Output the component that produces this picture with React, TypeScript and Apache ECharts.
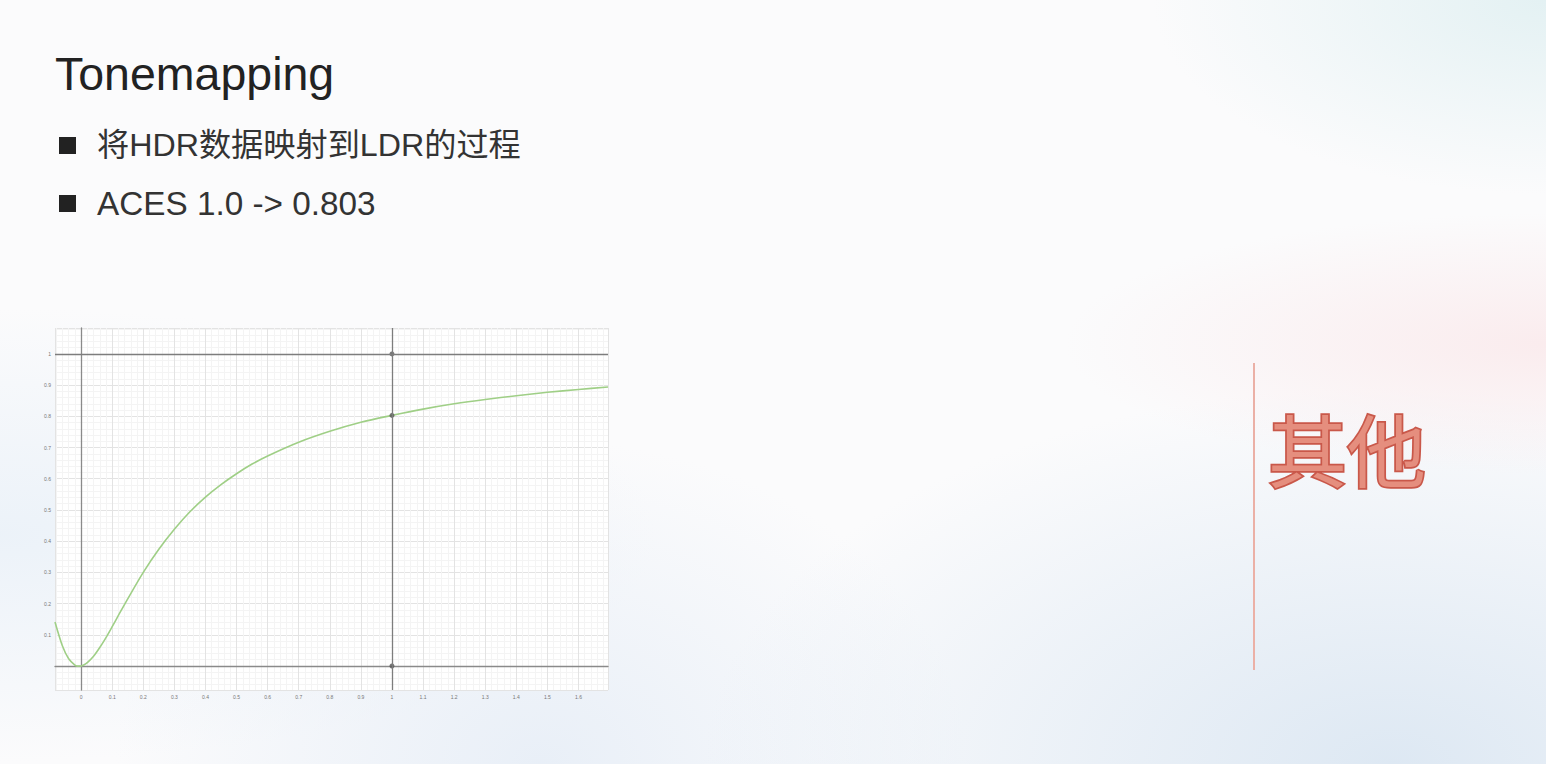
import React, { useEffect, useRef } from 'react';
import * as echarts from 'echarts';

// ACES curve (x -> mapped value)
const curveX = [-0.084, -0.06, -0.04, -0.02, -0.01, 0, 0.01, 0.02, 0.04, 0.06, 0.08, 0.1, 0.12, 0.15, 0.2, 0.25, 0.3, 0.35, 0.4, 0.45, 0.5, 0.55, 0.6, 0.7, 0.8, 0.9, 1.0, 1.1, 1.2, 1.3, 1.4, 1.5, 1.6, 1.695];
const curveY = [0.141, 0.064, 0.023, 0.003, -0.0004, 0, 0.0038, 0.0105, 0.031, 0.059, 0.091, 0.126, 0.162, 0.215, 0.3, 0.374, 0.438, 0.494, 0.541, 0.581, 0.616, 0.647, 0.673, 0.717, 0.752, 0.781, 0.803, 0.823, 0.84, 0.854, 0.866, 0.877, 0.886, 0.894];
const guideX = [1];
const guideY = [1];
const markerX = [1, 1, 1];
const markerY = [1, 0.803, 0];
const xRange = [-0.084, 1.695];
const yRange = [-0.077, 1.083];

const title = 'Tonemapping';
const bullets = ['将HDR数据映射到LDR的过程', 'ACES 1.0 -> 0.803'];
const sideTitle = '其他';

const fmt = (v: number) => String(+v.toFixed(1));

export default function App() {
  const ref = useRef<HTMLDivElement | null>(null);

  useEffect(() => {
    if (!ref.current) return;
    const chart = echarts.init(ref.current, undefined, { renderer: 'svg' });
    const latin = "'Liberation Sans', 'Noto Sans CJK SC', sans-serif";
    const axisCommon = {
      type: 'value' as const,
      axisLine: { onZero: true, lineStyle: { color: '#8a8a8a', width: 1.3 } },
      axisTick: { show: false },
      splitLine: { show: true, lineStyle: { color: '#e3e3e3', width: 1 } },
      minorTick: { show: false, splitNumber: 5 },
      minorSplitLine: { show: true, lineStyle: { color: '#f4f4f4', width: 1 } },
    };
    chart.setOption({
      animation: false,
      backgroundColor: 'transparent',
      grid: { left: 55, top: 328, width: 553, height: 362, show: true, backgroundColor: '#ffffff', borderWidth: 0 },
      xAxis: {
        ...axisCommon,
        min: xRange[0], max: xRange[1], splitNumber: 18,
        axisLabel: { fontSize: 5, color: '#777', margin: 4, showMinLabel: false, showMaxLabel: false, formatter: (v: number) => fmt(v) },
      },
      yAxis: {
        ...axisCommon,
        min: yRange[0], max: yRange[1], splitNumber: 12,
        axisLabel: { fontSize: 5, color: '#777', margin: 4, showMinLabel: false, showMaxLabel: false, formatter: (v: number) => (v === 0 ? '' : fmt(v)) },
      },
      series: [
        {
          type: 'line',
          data: curveX.map((x, i) => [x, curveY[i]]),
          smooth: 0.3,
          showSymbol: false,
          lineStyle: { color: '#9fcf86', width: 1.6 },
          markLine: {
            silent: true,
            symbol: 'none',
            label: { show: false },
            lineStyle: { color: '#7d7d7d', width: 1.3, type: 'solid' },
            data: [...guideX.map((v) => ({ xAxis: v })), ...guideY.map((v) => ({ yAxis: v }))],
          },
          z: 3,
        },
        {
          type: 'scatter',
          data: markerX.map((x, i) => [x, markerY[i]]),
          symbolSize: 5,
          itemStyle: { color: '#555' },
          z: 4,
        },
      ],
      graphic: [
        { type: 'text', left: 55, top: 51, style: { text: title, fontSize: 46.5, fontFamily: latin, fill: '#222' } },
        { type: 'rect', shape: { x: 59, y: 137, width: 17, height: 17 }, style: { fill: '#222' } },
        { type: 'text', x: 97, y: 145, style: { text: bullets[0], fontSize: 32.2, fontFamily: latin, fill: '#333', verticalAlign: 'middle' } },
        { type: 'rect', shape: { x: 59, y: 195, width: 17, height: 17 }, style: { fill: '#222' } },
        { type: 'text', x: 97, y: 203, style: { text: bullets[1], fontSize: 33.3, fontFamily: latin, fill: '#333', verticalAlign: 'middle' } },
        { type: 'line', shape: { x1: 1254, y1: 363, x2: 1254, y2: 670 }, style: { stroke: '#ebb0a6', lineWidth: 2 } },
        {
          type: 'text', x: 1268, y: 447,
          style: { text: sideTitle, fontSize: 79, fontWeight: 'normal', fontFamily: "'Noto Sans CJK SC', sans-serif", fill: '#e58e7e', stroke: '#c9584a', lineWidth: 3.5, verticalAlign: 'middle' },
        },
      ],
    });
    return () => { chart.dispose(); };
  }, []);

  return (
    <div
      style={{
        position: 'fixed', left: 0, top: 0, width: 1546, height: 764, overflow: 'hidden',
        background:
          'radial-gradient(ellipse at 100% 45%, rgba(250,232,234,0.8), rgba(250,232,234,0) 22%),' +
          'radial-gradient(ellipse at 100% 0%, rgba(225,240,242,0.9), rgba(225,240,242,0) 18%),' +
          'radial-gradient(ellipse at 90% 100%, rgba(218,230,242,0.9), rgba(218,230,242,0) 35%),' +
          'radial-gradient(ellipse at 35% 100%, rgba(228,236,246,0.8), rgba(228,236,246,0) 30%),' +
          'radial-gradient(ellipse at 0% 70%, rgba(232,240,248,0.8), rgba(232,240,248,0) 30%),' +
          '#fbfbfc',
      }}
    >
      <div ref={ref} style={{ width: 1546, height: 764 }} />
    </div>
  );
}
